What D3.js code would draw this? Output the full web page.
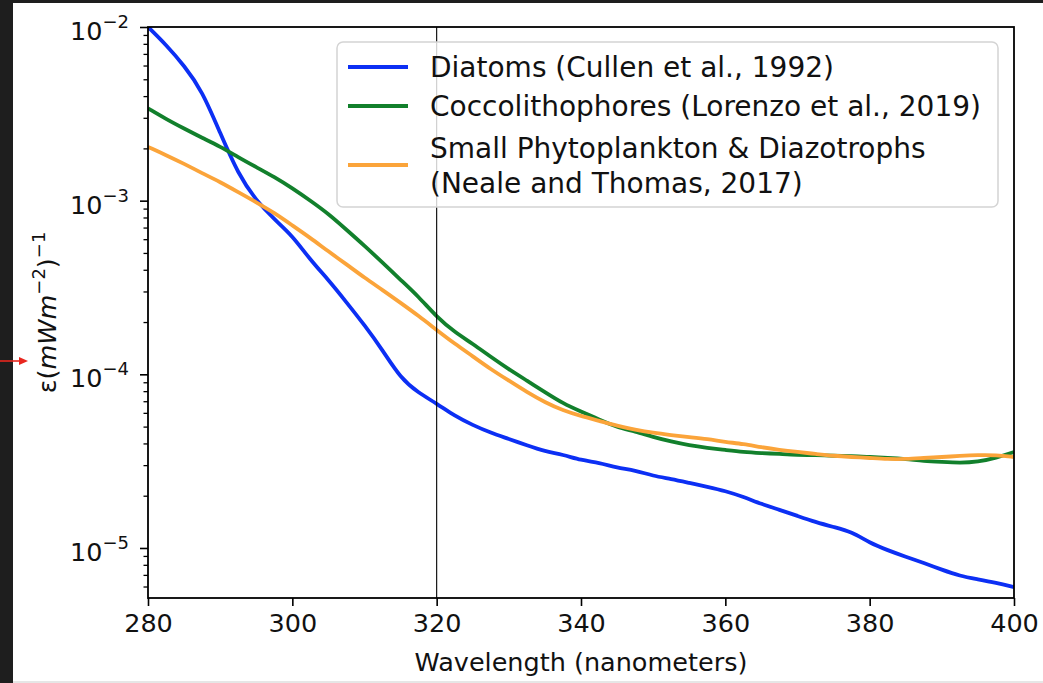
<!DOCTYPE html>
<html>
<head>
<meta charset="utf-8">
<script src="https://cdn.jsdelivr.net/npm/d3@7"></script>
<style>
  body { margin: 0; background: #1e1e1e; }
  svg { display: block; font-family: "DejaVu Sans", sans-serif; }
</style>
</head>
<body>
<div id="chart"></div>
<script>
// wavelengths (nm), every 2.5 nm
var wavelengths = [280, 282.5, 285, 287.5, 290, 292.5, 295, 297.5, 300, 302.5, 305, 307.5,
  310, 312.5, 315, 317.5, 320, 322.5, 325, 327.5, 330, 332.5, 335, 337.5, 340, 342.5,
  345, 347.5, 350, 352.5, 355, 357.5, 360, 362.5, 365, 367.5, 370, 372.5, 375, 377.5,
  380, 382.5, 385, 387.5, 390, 392.5, 395, 397.5, 400];

// Diatoms (Cullen et al., 1992)
var diatoms = [1.0e-2, 7.9e-3, 6.0e-3, 4.3e-3, 2.45e-3, 1.42e-3, 1.0e-3, 7.8e-4, 6.3e-4,
  4.55e-4, 3.5e-4, 2.6e-4, 1.92e-4, 1.38e-4, 9.5e-5, 7.8e-5, 6.8e-5, 5.75e-5, 5.1e-5,
  4.6e-5, 4.25e-5, 3.9e-5, 3.6e-5, 3.45e-5, 3.2e-5, 3.1e-5, 2.9e-5, 2.8e-5, 2.6e-5,
  2.5e-5, 2.37e-5, 2.25e-5, 2.13e-5, 1.97e-5, 1.79e-5, 1.66e-5, 1.53e-5, 1.41e-5,
  1.32e-5, 1.24e-5, 1.07e-5, 9.7e-6, 8.9e-6, 8.2e-6, 7.5e-6, 6.9e-6, 6.6e-6, 6.3e-6, 5.95e-6];

// Coccolithophores (Lorenzo et al., 2019)
var coccos = [3.4e-3, 2.95e-3, 2.6e-3, 2.3e-3, 2.05e-3, 1.78e-3, 1.56e-3, 1.37e-3, 1.18e-3,
  1.0e-3, 8.4e-4, 6.8e-4, 5.5e-4, 4.4e-4, 3.5e-4, 2.8e-4, 2.14e-4, 1.75e-4, 1.5e-4,
  1.26e-4, 1.07e-4, 9.2e-5, 7.9e-5, 6.8e-5, 6.1e-5, 5.5e-5, 4.95e-5, 4.7e-5, 4.35e-5,
  4.1e-5, 3.9e-5, 3.77e-5, 3.67e-5, 3.57e-5, 3.52e-5, 3.48e-5, 3.43e-5, 3.43e-5, 3.39e-5,
  3.39e-5, 3.34e-5, 3.3e-5, 3.25e-5, 3.17e-5, 3.13e-5, 3.09e-5, 3.13e-5, 3.3e-5, 3.57e-5];

// Small Phytoplankton & Diazotrophs (Neale and Thomas, 2017)
var smallPhyto = [2.04e-3, 1.83e-3, 1.63e-3, 1.44e-3, 1.28e-3, 1.12e-3, 9.8e-4, 8.5e-4,
  7.2e-4, 6.1e-4, 5.1e-4, 4.3e-4, 3.6e-4, 3.06e-4, 2.58e-4, 2.17e-4, 1.8e-4, 1.5e-4,
  1.27e-4, 1.07e-4, 9.2e-5, 7.9e-5, 6.9e-5, 6.2e-5, 5.75e-5, 5.4e-5, 5.05e-5, 4.8e-5,
  4.6e-5, 4.47e-5, 4.35e-5, 4.24e-5, 4.08e-5, 3.97e-5, 3.8e-5, 3.67e-5, 3.57e-5, 3.48e-5,
  3.39e-5, 3.34e-5, 3.3e-5, 3.25e-5, 3.25e-5, 3.3e-5, 3.34e-5, 3.39e-5, 3.43e-5, 3.43e-5, 3.34e-5];

var seriesNames = ["Diatoms (Cullen et al., 1992)", "Coccolithophores (Lorenzo et al., 2019)",
  ["Small Phytoplankton & Diazotrophs", "(Neale and Thomas, 2017)"]];
var seriesColors = ["#0c2ff4", "#12802c", "#fba43a"];

var xTicks = [280, 300, 320, 340, 360, 380, 400];
var yTickExps = [-2, -3, -4, -5];
var markerWavelength = 320;

var W = 1043, H = 683;
var plotL = 148, plotR = 1014, plotT = 27, plotB = 598;

var svg = d3.select("#chart").append("svg")
    .attr("width", W)
    .attr("height", H);

// screenshot frame
svg.append("rect").attr("width", W).attr("height", H).attr("fill", "#1e1e1e");
svg.append("rect").attr("x", 13).attr("y", 3).attr("width", W - 13).attr("height", 678).attr("fill", "#fff");
svg.append("rect").attr("x", 13).attr("y", 681).attr("width", W - 13).attr("height", 2).attr("fill", "#e6e6e6");

var x = d3.scaleLinear().domain([280, 400]).range([plotL, plotR]);
var y = d3.scaleLog().domain([Math.pow(10, -5.288), 1e-2]).range([plotB, plotT]);

// curves
var all = [diatoms, coccos, smallPhyto];
var line = d3.line()
    .x(function(d) { return x(d[0]); })
    .y(function(d) { return y(d[1]); })
    .curve(d3.curveBasis);

svg.append("defs").append("clipPath").attr("id", "clip")
  .append("rect").attr("x", plotL).attr("y", plotT)
  .attr("width", plotR - plotL).attr("height", plotB - plotT);

svg.append("g").attr("clip-path", "url(#clip)")
  .selectAll("path")
  .data(all).enter()
    .append("path")
    .attr("d", function(vals) { return line(d3.zip(wavelengths, vals)); })
    .attr("fill", "none")
    .attr("stroke", function(d, i) { return seriesColors[i]; })
    .attr("stroke-width", 3.8)
    .attr("stroke-linejoin", "round")
    .attr("stroke-linecap", "butt");

// vertical line at 320 nm
svg.append("line")
  .attr("x1", x(markerWavelength)).attr("x2", x(markerWavelength))
  .attr("y1", plotT).attr("y2", plotB)
  .attr("stroke", "#000").attr("stroke-width", 1.1);

// x axis
var xAxis = svg.append("g")
  .attr("transform", "translate(0," + plotB + ")")
  .call(d3.axisBottom(x).tickValues(xTicks).tickSize(8).tickPadding(8).tickFormat(d3.format("d")));
xAxis.select(".domain").remove();
xAxis.selectAll(".tick line").attr("stroke-width", 1.6);
xAxis.selectAll("text").attr("font-size", 25.5).attr("fill", "#111")
  .attr("font-family", "DejaVu Sans");

// y axis: minor ticks then major ticks
var minors = [];
for (var e = -6; e < -2; e++) {
  for (var k = 2; k <= 9; k++) {
    var v = k * Math.pow(10, e);
    if (v >= y.domain()[0] && v <= 1e-2) minors.push(v);
  }
}
var yMinor = svg.append("g").attr("transform", "translate(" + plotL + ",0)")
  .call(d3.axisLeft(y).tickValues(minors).tickSize(4.5).tickFormat(""));
yMinor.select(".domain").remove();
yMinor.selectAll(".tick line").attr("stroke-width", 1.3);

var yMajor = svg.append("g").attr("transform", "translate(" + plotL + ",0)")
  .call(d3.axisLeft(y).tickValues(yTickExps.map(function(p) { return Math.pow(10, p); }))
    .tickSize(8).tickFormat(""));
yMajor.select(".domain").remove();
yMajor.selectAll(".tick line").attr("stroke-width", 1.6);

var yLab = svg.append("g").selectAll("text")
  .data(yTickExps).enter()
    .append("text")
    .attr("x", 129)
    .attr("y", function(p) { return y(Math.pow(10, p)) + 13; })
    .attr("text-anchor", "end")
    .attr("font-size", 25.5)
    .attr("fill", "#111");
yLab.append("tspan").text("10");
yLab.append("tspan").attr("dy", -12).attr("font-size", 18).text(function(p) { return "\u2212" + (-p); });

// frame (spines)
svg.append("rect")
  .attr("x", plotL).attr("y", plotT)
  .attr("width", plotR - plotL).attr("height", plotB - plotT)
  .attr("fill", "none").attr("stroke", "#000").attr("stroke-width", 1.8);

// axis labels
svg.append("text")
  .attr("x", (plotL + plotR) / 2)
  .attr("y", 671)
  .attr("text-anchor", "middle")
  .attr("font-size", 25.5)
  .attr("fill", "#111")
  .text("Wavelength (nanometers)");

var yTitle = svg.append("text")
  .attr("transform", "translate(56," + ((plotT + plotB) / 2) + ") rotate(-90)")
  .attr("text-anchor", "middle")
  .attr("font-size", 25.5)
  .attr("fill", "#111");
yTitle.append("tspan").text("\u03b5(");
yTitle.append("tspan").attr("font-style", "italic").text("mWm");
yTitle.append("tspan").attr("dy", -11).attr("font-size", 18).text("\u22122");
yTitle.append("tspan").attr("dy", 11).text(")");
yTitle.append("tspan").attr("dy", -11).attr("font-size", 18).text("\u22121");

// legend
var leg = svg.append("g");
leg.append("rect")
  .attr("x", 337).attr("y", 42).attr("width", 661).attr("height", 165)
  .attr("rx", 6)
  .attr("fill", "#fff").attr("fill-opacity", 0.8)
  .attr("stroke", "#d4d4d4").attr("stroke-width", 1.5);

var legY = [67, 106, 165];
leg.selectAll(".key")
  .data(seriesNames).enter()
    .append("line")
    .attr("x1", 348).attr("x2", 408)
    .attr("y1", function(d, i) { return legY[i]; })
    .attr("y2", function(d, i) { return legY[i]; })
    .attr("stroke", function(d, i) { return seriesColors[i]; })
    .attr("stroke-width", 3.8);

leg.selectAll(".name")
  .data(seriesNames).enter()
    .append("text")
    .attr("x", 430)
    .attr("y", function(d, i) { return legY[i]; })
    .attr("font-size", 28)
    .attr("fill", "#111")
    .each(function(d, i) {
      var lines = Array.isArray(d) ? d : [d];
      var t = d3.select(this);
      lines.forEach(function(s, j) {
        t.append("tspan")
          .attr("x", 430)
          .attr("dy", j === 0 ? (lines.length > 1 ? -17.5 + 10 : 10) : 35)
          .text(s);
      });
    });

// red pointer arrow on the left
svg.append("line")
  .attr("x1", 0).attr("x2", 20).attr("y1", 361).attr("y2", 361)
  .attr("stroke", "#e8261e").attr("stroke-width", 1.6);
svg.append("path")
  .attr("d", "M28,361L19,357L19,365Z")
  .attr("fill", "#e8261e");
</script>
</body>
</html>
